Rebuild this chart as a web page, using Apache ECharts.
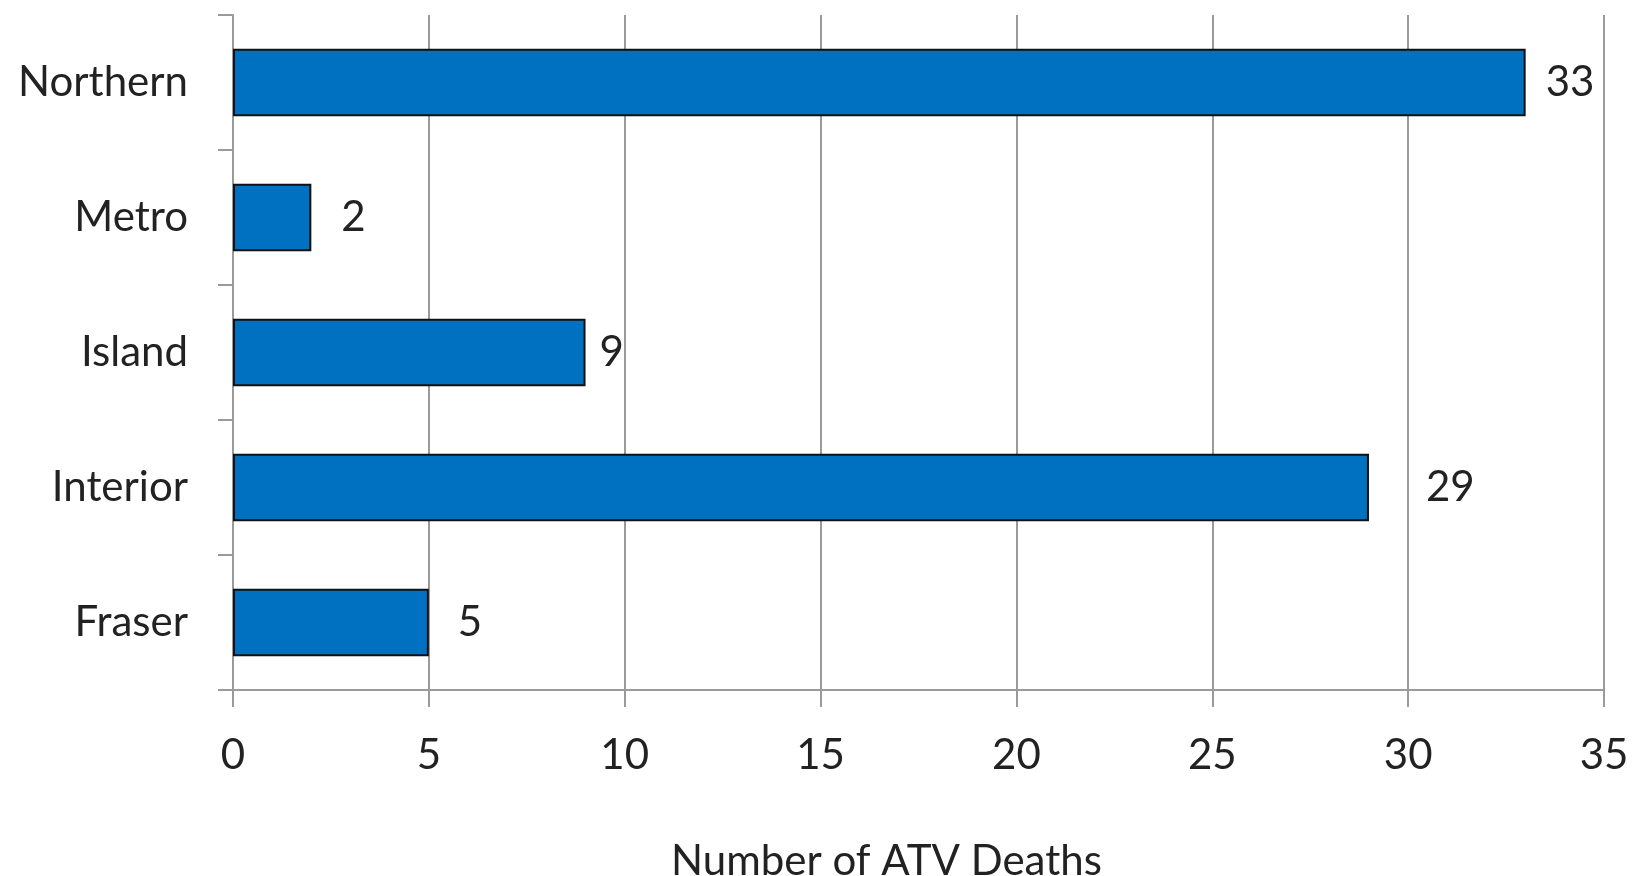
<!DOCTYPE html>
<html>
<head>
<meta charset="utf-8">
<script src="https://cdn.jsdelivr.net/npm/echarts@6/dist/echarts.min.js"></script>
<style>html,body{margin:0;padding:0;background:#fff}#c{width:1633px;height:876px}</style>
</head>
<body>
<div id="c"></div>
<script>
const categories = ['Northern', 'Metro', 'Island', 'Interior', 'Fraser'];
const deaths = [33, 2, 9, 29, 5];
const xTicks = [0, 5, 10, 15, 20, 25, 30, 35];
const axisTitle = 'Number of ATV Deaths';

// label gaps (style, not data) keyed by category
const labelGap = { Northern: 20, Metro: 30, Island: 14, Interior: 57, Fraser: 29 };

const FONT = 'Lato';
const chart = echarts.init(document.getElementById('c'), null, { renderer: 'canvas' });
chart.setOption({
  animation: false,
  backgroundColor: '#fff',
  grid: { left: 233, right: 29, top: 15, bottom: 186, containLabel: false, outerBoundsMode: 'none' },
  xAxis: {
    type: 'value',
    min: xTicks[0], max: xTicks[xTicks.length - 1], interval: xTicks[1] - xTicks[0],
    axisLine: { show: true, lineStyle: { color: '#9a9a9a', width: 2 } },
    axisTick: { show: true, length: 17, lineStyle: { color: '#9a9a9a', width: 2 } },
    splitLine: { show: true, lineStyle: { color: '#9a9a9a', width: 2 } },
    axisLabel: { fontFamily: FONT, fontSize: 42, color: '#222', margin: 44 },
    name: axisTitle, nameLocation: 'middle', nameGap: 150,
    nameTextStyle: { fontFamily: FONT, fontSize: 42, color: '#222', padding: [0, 64, 0, 0] }
  },
  yAxis: {
    type: 'category', data: categories, inverse: true,
    axisLine: { show: true, lineStyle: { color: '#9a9a9a', width: 2 } },
    axisTick: { show: true, length: 15, alignWithLabel: false, lineStyle: { color: '#9a9a9a', width: 2 } },
    axisLabel: { fontFamily: FONT, fontSize: 42, color: '#222', margin: 45 }
  },
  series: [{
    type: 'bar',
    barCategoryGap: '50%',
    data: deaths.map((v, i) => ({
      value: v,
      label: { distance: labelGap[categories[i]] }
    })),
    itemStyle: { color: '#0070C0', borderColor: '#111', borderWidth: 2 },
    label: { show: true, position: 'right', fontFamily: FONT, fontSize: 42, color: '#222' }
  }]
});
</script>
</body>
</html>
